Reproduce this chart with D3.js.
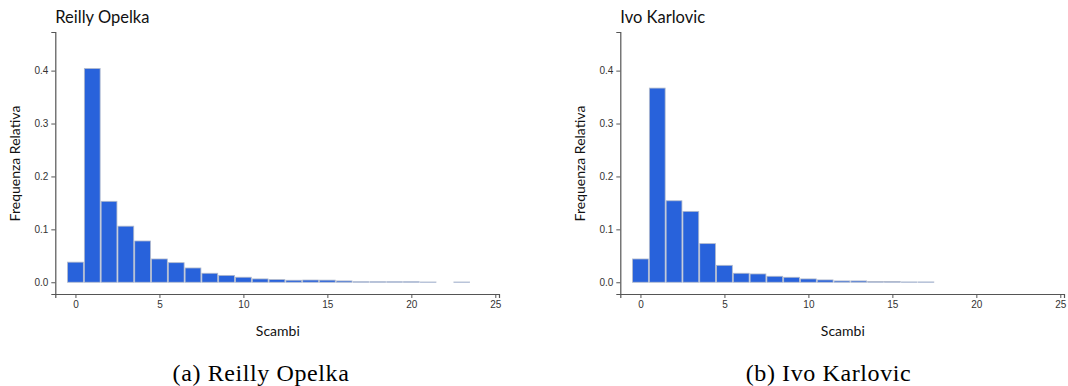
<!DOCTYPE html>
<html>
<head>
<meta charset="utf-8">
<script src="https://cdn.jsdelivr.net/npm/d3@7"></script>
<style>
  html, body { margin: 0; padding: 0; background: #fff; }
  svg { display: block; }
</style>
</head>
<body>
<svg id="chart" width="1068" height="386"></svg>
<script>
// Number of rallies (scambi) per point: relative frequency by bin
const scambi = d3.range(0, 24);
const opelka = [0.038, 0.404, 0.153, 0.106, 0.078, 0.044, 0.037, 0.027, 0.017, 0.013,
                0.0095, 0.0063, 0.005, 0.0038, 0.0042, 0.004, 0.0025, 0.001, 0.001, 0.001,
                0.001, 0.0005, 0, 0.0005];
const karlovic = [0.044, 0.367, 0.154, 0.134, 0.073, 0.032, 0.017, 0.0157, 0.0113, 0.0094,
                  0.0063, 0.0044, 0.0025, 0.0025, 0.0013, 0.0013, 0.0006, 0.0006];
const playerNames = ["Reilly Opelka", "Ivo Karlovic"];
const captions = ["(a) Reilly Opelka", "(b) Ivo Karlovic"];
const xTicks = [0, 5, 10, 15, 20, 25];
const yTicks = [0, 0.1, 0.2, 0.3, 0.4];
const xTitle = "Scambi";
const yTitle = "Frequenza Relativa";

const panels = [
  { values: opelka, name: playerNames[0], caption: captions[0],
    left: 55.3, right: 499, capX: 261 },
  { values: karlovic, name: playerNames[1], caption: captions[1],
    left: 620.3, right: 1064, capX: 828.5 }
];

const svg = d3.select("#chart");
const sans = "Lato, 'Liberation Sans', sans-serif";
const axisColor = "#555";

panels.forEach(p => {
  const g = svg.append("g");

  const x = d3.scaleLinear().domain([-1.2, 25.22]).range([p.left, p.right]);
  const y = d3.scaleLinear().domain([-0.0222, 0.473]).range([294, 32]);

  // histogram bars, one per integer bin
  g.append("g").selectAll("rect")
    .data(p.values.map((v, i) => ({ k: scambi[i], v })))
    .join("rect")
    .attr("x", d => x(d.k - 0.5) + 0.5)
    .attr("width", d => x(d.k + 0.5) - x(d.k - 0.5) - 1)
    .attr("y", d => y(d.v))
    .attr("height", d => y(0) - y(d.v))
    .attr("fill", d => d.v > 0 ? "#2862db" : "none")
    .attr("stroke", d => d.v > 0 ? "#b2bacb" : "none")
    .attr("stroke-width", 0.8);

  // x axis
  const gx = g.append("g")
    .attr("transform", "translate(0,294)")
    .call(d3.axisBottom(x).tickValues(xTicks).tickSizeOuter(0).tickSize(4).tickPadding(3));
  // y axis
  const gy = g.append("g")
    .attr("transform", `translate(${p.left},0)`)
    .call(d3.axisLeft(y).tickValues(yTicks).tickFormat(d3.format(".1f"))
      .tickSizeOuter(0).tickSize(4).tickPadding(3));

  [gx, gy].forEach(a => {
    a.select(".domain").attr("stroke", axisColor).attr("stroke-width", 1.2);
    a.selectAll(".tick line").attr("stroke", axisColor);
    a.selectAll(".tick text")
      .attr("fill", "#333")
      .style("font-family", "'Liberation Sans', Arial, sans-serif")
      .style("font-size", "10px");
  });

  // panel title
  g.append("text")
    .attr("x", p.left)
    .attr("y", 22.5)
    .attr("fill", "#111")
    .style("font-family", sans)
    .style("font-size", "16.5px")
    .text(p.name);

  // axis titles
  g.append("text")
    .attr("x", x(12.05))
    .attr("y", 336)
    .attr("text-anchor", "middle")
    .attr("fill", "#111")
    .style("font-family", sans)
    .style("font-size", "14px")
    .text(xTitle);

  g.append("text")
    .attr("transform", `translate(${p.left - 35},163.5) rotate(-90)`)
    .attr("text-anchor", "middle")
    .attr("fill", "#111")
    .style("font-family", sans)
    .style("font-size", "14px")
    .text(yTitle);

  // sub-figure caption
  g.append("text")
    .attr("x", p.capX)
    .attr("y", 381)
    .attr("text-anchor", "middle")
    .attr("fill", "#000")
    .style("font-family", "'Liberation Serif', 'Times New Roman', serif")
    .style("font-size", "24px")
    .style("letter-spacing", "0.6px")
    .text(p.caption);
});
</script>
</body>
</html>
